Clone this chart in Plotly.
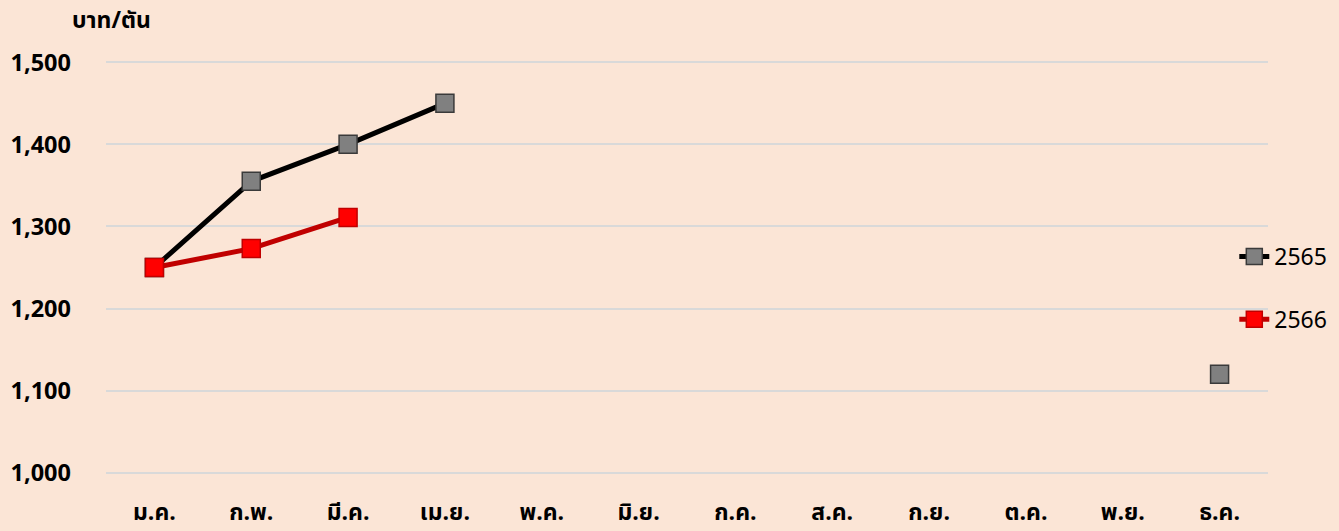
import plotly.graph_objects as go

months = ["ม.ค.", "ก.พ.", "มี.ค.", "เม.ย.", "พ.ค.", "มิ.ย.", "ก.ค.", "ส.ค.", "ก.ย.", "ต.ค.", "พ.ย.", "ธ.ค."]
y2565 = [1250, 1355, 1400, 1450, None, None, None, None, None, None, None, 1120]
y2566 = [1250, 1273, 1311, None, None, None, None, None, None, None, None, None]
yticks = [1000, 1100, 1200, 1300, 1400, 1500]
ytick_text = ["1,000", "1,100", "1,200", "1,300", "1,400", "1,500"]

BG = "#FBE5D6"
FONT = "Tahoma, 'Noto Sans Thai', 'Noto Sans', 'DejaVu Sans', sans-serif"

fig = go.Figure()
fig.add_trace(go.Scatter(
    x=months, y=y2565, name="2565", mode="lines+markers",
    line=dict(color="#000000", width=5),
    marker=dict(symbol="square", size=18, color="#808080",
                line=dict(color="#3A3A3A", width=1.5)),
    connectgaps=False, legendgroup="a"))
fig.add_trace(go.Scatter(
    x=months, y=y2566, name="2566", mode="lines+markers",
    line=dict(color="#C00000", width=5),
    marker=dict(symbol="square", size=18, color="#FF0000",
                line=dict(color="#C00000", width=1.5)),
    connectgaps=False, legendgroup="b"))

fig.update_layout(
    width=1339, height=531,
    paper_bgcolor=BG, plot_bgcolor=BG,
    margin=dict(l=106, r=71, t=59, b=55, autoexpand=False),
    font=dict(family=FONT, size=22, color="#000000"),
    showlegend=True,
    legend=dict(x=0.971, y=0.578, xanchor="left", yanchor="top",
                bgcolor="rgba(0,0,0,0)", font=dict(size=23),
                tracegroupgap=30, traceorder="grouped"),
    annotations=[dict(text="<b>บาท/ตัน</b>", xref="paper", yref="paper",
                      x=-0.031, y=1.0, yshift=38, xanchor="left", yanchor="middle",
                      showarrow=False, font=dict(size=23))],
)
fig.update_xaxes(type="category", range=[-0.5, 11.5], showgrid=False, zeroline=False,
                 showline=False, tickfont=dict(size=23), ticklabelstandoff=20,
                 tickvals=months, ticktext=[f"<b>{m}</b>" for m in months])
fig.update_yaxes(range=[996, 1504], tickvals=yticks,
                 ticktext=[f"<b>{t}</b>" for t in ytick_text],
                 showgrid=True, gridcolor="#D9D9D9", gridwidth=1.5,
                 zeroline=False, showline=False, ticklabelstandoff=34,
                 tickfont=dict(size=23.5))

fig.write_html("out.html", config={"displayModeBar": False},
               post_script="document.body.style.margin='0';document.body.style.overflow='hidden';")
